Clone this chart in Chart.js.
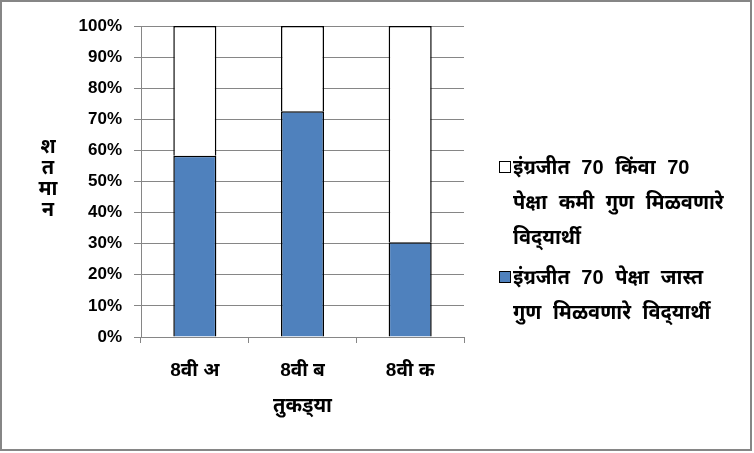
<!DOCTYPE html>
<html>
<head>
<meta charset="utf-8">
<script src="https://cdn.jsdelivr.net/npm/chart.js@4/dist/chart.umd.min.js"></script>
<style>
  body { margin: 0; background: #fff; }
  #wrap { position: relative; width: 754px; height: 453px; }
  #frame { position: absolute; left: 0; top: 0; width: 752px; height: 451px;
           border: 2px solid #868686; box-sizing: border-box; pointer-events: none; }
  #legend { position: absolute; left: 498px; top: 150px; width: 252px;
            font: bold 20px 'Liberation Sans', 'Noto Sans Devanagari', sans-serif;
            word-spacing: 6px; color: #000; white-space: nowrap; }
  .item { position: relative; padding-left: 15px; line-height: 35px; margin-bottom: 5px; }
  .box { position: absolute; left: 1px; top: 11px; width: 10px; height: 10px; border: 1px solid #000; }
</style>
</head>
<body>
<div id="wrap">
  <canvas id="chart" width="754" height="453"></canvas>
  <div id="legend"></div>
  <div id="frame"></div>
</div>
<script>
const categories = ['8वी अ', '8वी ब', '8वी क'];
const aboveSeventy = [58.3, 72.6, 30.5];
const seventyOrBelow = [41.7, 27.4, 69.5];
const aboveLabel = ['इंग्रजीत 70 पेक्षा जास्त', 'गुण मिळवणारे विद्\u200Cयार्थी'];
const belowLabel = ['इंग्रजीत 70 किंवा 70', 'पेक्षा कमी गुण मिळवणारे', 'विद्\u200Cयार्थी'];
const yTitleLines = ['श', 'त', 'मा', 'न'];
const xTitle = 'तुकड्\u200Cया';

const FONT = "'Liberation Sans', 'Noto Sans Devanagari', sans-serif";
const GRID = '#868686';

const yTitlePlugin = {
  id: 'yTitleStacked',
  afterDraw(chart) {
    const ctx = chart.ctx;
    ctx.save();
    ctx.font = 'bold 20px ' + FONT;
    ctx.fillStyle = '#000';
    ctx.textAlign = 'center';
    ctx.textBaseline = 'middle';
    yTitleLines.forEach((s, i) => ctx.fillText(s, 48, 147 + i * 21));
    ctx.restore();
  },
};

const chart = new Chart(document.getElementById('chart'), {
  type: 'bar',
  data: {
    labels: categories,
    datasets: [
      {
        label: aboveLabel.join(' '),
        lines: aboveLabel,
        data: aboveSeventy,
        backgroundColor: '#4F81BD',
        borderColor: '#000',
        borderWidth: 1.5,
      },
      {
        label: belowLabel.join(' '),
        lines: belowLabel,
        data: seventyOrBelow,
        backgroundColor: '#FFFFFF',
        borderColor: '#000',
        borderWidth: 1.5,
      },
    ],
  },
  options: {
    responsive: false,
    animation: false,
    layout: { padding: { left: 0, right: 290, top: 26, bottom: 0 } },
    datasets: { bar: { categoryPercentage: 1, barPercentage: 0.4 } },
    plugins: { legend: { display: false }, tooltip: { enabled: false } },
    scales: {
      x: {
        stacked: true,
        afterFit: (scale) => { scale.height = 116; },
        grid: { drawOnChartArea: false, drawTicks: true, tickLength: 6, color: GRID },
        border: { color: GRID },
        ticks: { color: '#000', padding: 16, font: { family: FONT, size: 19, weight: 'bold' } },
        title: {
          display: true,
          text: xTitle,
          color: '#000',
          padding: { bottom: 35 },
          font: { family: FONT, size: 20, weight: 'bold' },
        },
      },
      y: {
        stacked: true,
        min: 0,
        max: 100,
        afterFit: (scale) => { scale.width = 141; },
        grid: { color: GRID, tickLength: 7 },
        border: { color: GRID },
        ticks: {
          stepSize: 10,
          color: '#000',
          padding: 12,
          font: { family: FONT, size: 17, weight: 'bold' },
          callback: (v) => v + '%',
        },
      },
    },
  },
  plugins: [yTitlePlugin],
});

const legend = document.getElementById('legend');
chart.data.datasets.slice().reverse().forEach((ds) => {
  const item = document.createElement('div');
  item.className = 'item';
  const box = document.createElement('span');
  box.className = 'box';
  box.style.background = ds.backgroundColor;
  item.appendChild(box);
  ds.lines.forEach((line, i) => {
    if (i) item.appendChild(document.createElement('br'));
    item.appendChild(document.createTextNode(line));
  });
  legend.appendChild(item);
});
</script>
</body>
</html>
